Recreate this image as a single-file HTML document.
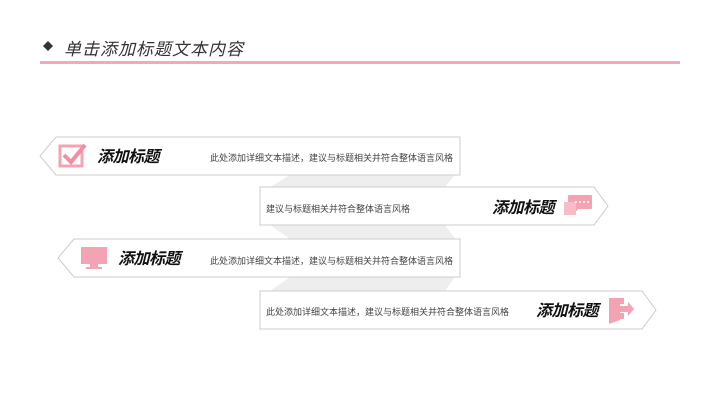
<!DOCTYPE html>
<html><head><meta charset="utf-8"><style>
body{margin:0;width:720px;height:405px;background:#fff;position:relative;overflow:hidden;font-family:"Liberation Sans","Noto Sans CJK SC",sans-serif}
.t{position:absolute;white-space:nowrap}
.h{font-size:16px;font-weight:bold;font-style:italic;color:#111;letter-spacing:-0.5px}
.d{font-size:9px;color:#444}
</style></head><body>
<svg width="720" height="405" style="position:absolute;left:0;top:0">
<polygon points="48,41 53,46 48,51 43,46" fill="#333"/>
<rect x="40" y="61" width="640" height="3" fill="#f4a9b6"/>
<polygon points="290,175 455,175 445,187 270,187" fill="#eee"/>
<polygon points="270,225 445,225 455,239 290,239" fill="#eee"/>
<polygon points="290,277 455,277 445,291 270,291" fill="#eee"/>
<polygon points="56,137 460,137 460,175 56,175 40,156" fill="#fff" stroke="#ccc" stroke-width="1"/>
<polygon points="260,187 594,187 608,206 594,225 260,225" fill="#fff" stroke="#ccc" stroke-width="1"/>
<polygon points="74,239 460,239 460,277 74,277 58,258" fill="#fff" stroke="#ccc" stroke-width="1"/>
<polygon points="260,291 642,291 656,310 642,329 260,329" fill="#fff" stroke="#ccc" stroke-width="1"/>
<rect x="60" y="146" width="22" height="20" fill="none" stroke="#f4a3b2" stroke-width="3"/>
<polyline points="64,155 71,162 85,145" fill="none" stroke="#f08fa2" stroke-width="4"/>
<rect x="568" y="195" width="24" height="14" rx="1" fill="#f4a3b2"/>
<polygon points="574,209 578,209 574,214" fill="#f4a3b2"/>
<rect x="564" y="202" width="12" height="13" fill="#f8bcc6"/>
<circle cx="576" cy="202" r="1" fill="#fff"/><circle cx="580" cy="202" r="1" fill="#fff"/><circle cx="584" cy="202" r="1" fill="#fff"/><circle cx="588" cy="202" r="1" fill="#fff"/>
<rect x="81" y="247" width="26" height="17" fill="#f4a3b2"/>
<rect x="90" y="264" width="8" height="3" fill="#f4a3b2"/>
<rect x="86" y="267" width="16" height="2" fill="#f4a3b2"/>
<polygon points="609,298 620,298 620,320 609,324" fill="#f4a3b2"/>
<rect x="620" y="298" width="4" height="6" fill="#f4a3b2"/>
<rect x="620" y="313" width="4" height="6" fill="#f4a3b2"/>
<polygon points="620,306 628,306 628,302 634,309 628,316 628,312 620,312" fill="#f4a3b2"/>
</svg>
<div class="t" style="left:64px;top:35px;font-size:17px;font-style:italic;color:#333;letter-spacing:1px">单击添加标题文本内容</div>
<div class="t h" style="left:97px;top:143px">添加标题</div>
<div class="t d" style="left:210px;top:151px">此处添加详细文本描述，建议与标题相关并符合整体语言风格</div>
<div class="t d" style="left:266px;top:202px">建议与标题相关并符合整体语言风格</div>
<div class="t h" style="left:492px;top:194px">添加标题</div>
<div class="t h" style="left:118px;top:245px">添加标题</div>
<div class="t d" style="left:210px;top:254px">此处添加详细文本描述，建议与标题相关并符合整体语言风格</div>
<div class="t d" style="left:266px;top:305px">此处添加详细文本描述，建议与标题相关并符合整体语言风格</div>
<div class="t h" style="left:536px;top:297px">添加标题</div>
</body></html>
